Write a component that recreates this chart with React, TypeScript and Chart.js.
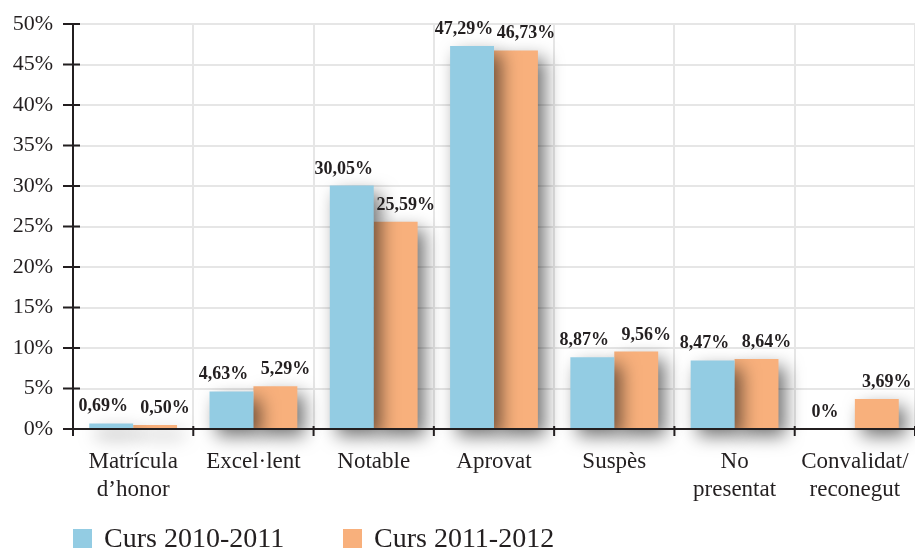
import React, { useEffect, useRef } from "react";
import { Chart, registerables } from "chart.js";

Chart.register(...registerables);

const categories: (string | string[])[] = [
  ["Matrícula", "d’honor"],
  "Excel·lent",
  "Notable",
  "Aprovat",
  "Suspès",
  ["No", "presentat"],
  ["Convalidat/", "reconegut"],
];
const curs20102011 = [0.69, 4.63, 30.05, 47.29, 8.87, 8.47, 0];
const curs20112012 = [0.5, 5.29, 25.59, 46.73, 9.56, 8.64, 3.69];
const seriesNames = ["Curs 2010-2011", "Curs 2011-2012"];
const yTicks = [0, 5, 10, 15, 20, 25, 30, 35, 40, 45, 50];

const BLUE = "#93cce3";
const ORANGE = "#f8b07c";
const INK = "#231f20";
const FONT = "'Liberation Serif', 'Times New Roman', serif";

function fmt(v: number): string {
  if (v === 0) return "0%";
  return v.toFixed(2).replace(".", ",") + "%";
}

const decorPlugin = {
  id: "decor",
  beforeDatasetsDraw(chart: any) {
    const ctx = chart.ctx;
    ctx.save();
    ctx.shadowColor = "rgba(0,0,0,0.55)";
    ctx.shadowBlur = 18;
    ctx.shadowOffsetX = 7;
    ctx.shadowOffsetY = 8;
  },
  afterDatasetsDraw(chart: any) {
    const ctx = chart.ctx;
    ctx.restore();
    const area = chart.chartArea;
    const xs = chart.scales.x;
    const ys = chart.scales.y;
    ctx.save();
    ctx.strokeStyle = INK;
    ctx.lineWidth = 2;
    ctx.beginPath();
    ctx.moveTo(area.left, ys.getPixelForValue(50) - 1);
    ctx.lineTo(area.left, area.bottom);
    ctx.moveTo(area.left - 1, area.bottom);
    ctx.lineTo(chart.width, area.bottom);
    ctx.stroke();
    ctx.beginPath();
    for (const t of yTicks) {
      const y = ys.getPixelForValue(t);
      ctx.moveTo(area.left - 10, y);
      ctx.lineTo(area.left + 7, y);
    }
    const n = categories.length;
    const step = xs.getPixelForValue(1) - xs.getPixelForValue(0);
    for (let i = 0; i <= n; i++) {
      const x = xs.getPixelForValue(0) - step / 2 + i * step;
      ctx.moveTo(x, area.bottom - 3);
      ctx.lineTo(x, area.bottom + 7);
    }
    ctx.stroke();
    ctx.fillStyle = INK;
    ctx.font = `bold 18px ${FONT}`;
    ctx.textAlign = "center";
    ctx.textBaseline = "alphabetic";
    chart.data.datasets.forEach((ds: any, di: number) => {
      const meta = chart.getDatasetMeta(di);
      meta.data.forEach((bar: any, i: number) => {
        const off = di === 0 ? -8 : 10;
        ctx.fillText(fmt(ds.data[i]), bar.x + off, bar.y - 12);
      });
    });
    ctx.restore();
  },
  afterDraw(chart: any) {
    const ctx = chart.ctx;
    ctx.save();
    const xPos = [73, 343];
    ctx.font = `28px ${FONT}`;
    ctx.textBaseline = "alphabetic";
    ctx.textAlign = "left";
    chart.data.datasets.forEach((ds: any, di: number) => {
      ctx.fillStyle = ds.backgroundColor;
      ctx.fillRect(xPos[di], 529, 19, 19);
      ctx.fillStyle = INK;
      ctx.fillText(ds.label, xPos[di] + 31, 547);
    });
    ctx.restore();
  },
};

export default function App() {
  const ref = useRef<HTMLCanvasElement | null>(null);
  useEffect(() => {
    if (!ref.current) return;
    const chart = new Chart(ref.current, {
      type: "bar",
      data: {
        labels: categories,
        datasets: [
          {
            label: seriesNames[0],
            data: curs20102011,
            backgroundColor: BLUE,
            categoryPercentage: 0.73,
            barPercentage: 1.0,
            clip: false as any,
          },
          {
            label: seriesNames[1],
            data: curs20112012,
            backgroundColor: ORANGE,
            categoryPercentage: 0.73,
            barPercentage: 1.0,
            clip: false as any,
          },
        ],
      },
      options: {
        responsive: false,
        animation: false,
        layout: { padding: { top: 24, left: 0, right: 0, bottom: 0 } },
        plugins: {
          legend: { display: false },
          tooltip: { enabled: false },
        },
        scales: {
          x: {
            grid: { color: "#e6e6e6", lineWidth: 2, drawTicks: false, offset: true },
            border: { display: false },
            ticks: {
              color: INK,
              padding: 19,
              font: { family: FONT, size: 23, lineHeight: 1.22 },
              maxRotation: 0,
              autoSkip: false,
            },
            afterFit: (s: any) => {
              s.height = 122;
              s.paddingLeft = 0;
              s.paddingRight = 0;
            },
          },
          y: {
            min: 0,
            max: 50,
            grid: { color: "#e6e6e6", lineWidth: 2, drawTicks: false },
            border: { display: false },
            ticks: {
              stepSize: 5,
              color: INK,
              padding: 20,
              font: { family: FONT, size: 22 },
              callback: (v: any) => v + "%",
            },
            afterFit: (s: any) => {
              s.width = 73;
              s.paddingTop = 0;
              s.paddingBottom = 0;
            },
          },
        },
      },
      plugins: [decorPlugin],
    });
    return () => chart.destroy();
  }, []);
  return (
    <div style={{ position: "fixed", left: 0, top: 0, width: 915, height: 551, background: "#fff" }}>
      <canvas ref={ref} width={915} height={551} style={{ display: "block" }} />
    </div>
  );
}
